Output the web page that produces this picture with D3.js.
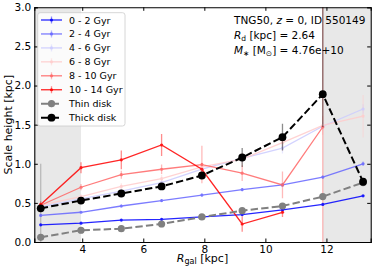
<!DOCTYPE html>
<meta charset="utf-8">
<style>
  body { margin: 0; background: #fff; }
  svg { display: block; font-family: 'DejaVu Sans', sans-serif; }
  .axis path { stroke: #000; stroke-width: 1.1px; }
  .axis line { stroke: #000; stroke-width: 1px; }
  .axis text { font-size: 10.5px; fill: #000; font-family: 'DejaVu Sans', sans-serif; }
</style>
<script src="https://d3js.org/d3.v7.min.js"></script>
<body>
<svg width="374" height="270"></svg>
<script>
  // radii sampled at 1.0 .. 5.0 R_d in half steps, R_d = 2.64 kpc
  var rd = 2.64;
  var radii = [2.64, 3.96, 5.28, 6.60, 7.92, 9.24, 10.56, 11.88, 13.20];

  var ageLabels = ["0 - 2 Gyr", "2 - 4 Gyr", "4 - 6 Gyr", "6 - 8 Gyr", "8 - 10 Gyr", "10 - 14 Gyr"];
  var ageColors = ["#0000ff", "#6666ff", "#ccccff", "#ffcccc", "#ff6666", "#ff0000"];

  var h0_2   = [0.22, 0.24, 0.28, 0.29, 0.32, 0.35, 0.41, 0.48, 0.59];
  var h2_4   = [0.34, 0.38, 0.46, 0.53, 0.60, 0.67, 0.73, 0.83, 1.00];
  var h4_6   = [0.45, 0.55, 0.65, 0.76, 0.93, 1.07, 1.20, 1.48, 1.70];
  var h6_8   = [0.47, 0.58, 0.71, 0.81, 0.96, 1.06, 1.27, 1.49, 1.61];
  var h8_10  = [0.47, 0.70, 0.86, 0.93, 0.99, 0.88, 0.73, 1.47, null];
  var h10_14 = [0.48, 0.95, 1.05, 1.24, 0.93, 0.23, 0.38, null, null];

  var e0_2   = [0.01, 0.01, 0.01, 0.01, 0.01, 0.01, 0.01, 0.01, 0.01];
  var e2_4   = [0.01, 0.01, 0.02, 0.02, 0.02, 0.02, 0.02, 0.02, 0.03];
  var e4_6   = [0.02, 0.02, 0.03, 0.03, 0.04, 0.05, 0.07, 0.05, 0.06];
  var e6_8   = [0.02, 0.03, 0.04, 0.05, 0.06, 0.08, 0.10, 0.12, 0.27];
  var e8_10  = [0.03, 0.04, 0.05, 0.06, 0.24, 0.10, 0.17, 1.60, null];
  var e10_14 = [0.04, 0.07, 0.12, 0.14, 0.08, 0.10, 0.06, null, null];

  var thin  = [0.06, 0.15, 0.17, 0.23, 0.32, 0.40, 0.46, 0.58, 0.76];
  var thick = [0.43, 0.53, 0.62, 0.71, 0.85, 1.08, 1.34, 1.89, 0.77];
  var eThin  = [0.94, 0.04, 0.04, 0.04, 0.03, 0.03, 0.03, 0.03, 0.03];
  var eThickLo = [0.02, 0.02, 0.03, 0.03, 0.04, 0.12, 0.17, 0.42, 0.04];
  var eThickHi = [0.02, 0.02, 0.03, 0.03, 0.04, 0.12, 0.17, 1.25, 0.04];

  var xTicks = [4, 6, 8, 10, 12];
  var yTicks = [0, 0.5, 1.0, 1.5, 2.0, 2.5, 3.0];

  var ageH = [h0_2, h2_4, h4_6, h6_8, h8_10, h10_14];
  var ageE = [e0_2, e2_4, e4_6, e6_8, e8_10, e10_14];

  var svg = d3.select("svg");
  var L = 34.3, R = 370.7, T = 7.3, B = 242;

  var x = d3.scaleLinear().domain([2.43, 13.45]).range([L, R]);
  var y = d3.scaleLinear().domain([0, 3]).range([B, T]);

  svg.append("clipPath").attr("id", "clip")
    .append("rect").attr("x", L).attr("y", T).attr("width", R - L).attr("height", B - T);

  var plot = svg.append("g").attr("clip-path", "url(#clip)");

  // shaded regions: inside 1.5 R_d and beyond 4.5 R_d
  plot.append("rect")
    .attr("x", L).attr("y", T)
    .attr("width", x(1.5 * rd) - L).attr("height", B - T)
    .attr("fill", "#e8e8e8");
  plot.append("rect")
    .attr("x", x(4.5 * rd)).attr("y", T)
    .attr("width", R - x(4.5 * rd)).attr("height", B - T)
    .attr("fill", "#e8e8e8");

  function pts(vals) {
    return radii.map(function(r, i) { return {r: r, v: vals[i], i: i}; })
      .filter(function(d) { return d.v != null; });
  }

  var line = d3.line().x(function(d) { return x(d.r); }).y(function(d) { return y(d.v); });

  // error bars first
  function errBars(vals, lo, hi, color, op, w) {
    plot.append("g").selectAll("line")
      .data(pts(vals))
      .join("line")
      .attr("x1", function(d) { return x(d.r); })
      .attr("x2", function(d) { return x(d.r); })
      .attr("y1", function(d) { return y(d.v - lo[d.i]); })
      .attr("y2", function(d) { return y(d.v + hi[d.i]); })
      .attr("stroke", color).attr("stroke-opacity", op).attr("stroke-width", w);
  }

  ageH.forEach(function(h, k) {
    errBars(h, ageE[k], ageE[k], ageColors[k], 0.45, 1.3);
  });
  errBars(thin, eThin, eThin, "#808080", 0.45, 1.3);

  ageH.forEach(function(h, k) {
    var g = plot.append("g").attr("opacity", 0.85);
    g.append("path").datum(pts(h))
      .attr("d", line).attr("fill", "none")
      .attr("stroke", ageColors[k]).attr("stroke-width", 1.3);
    g.selectAll("circle").data(pts(h)).join("circle")
      .attr("cx", function(d) { return x(d.r); })
      .attr("cy", function(d) { return y(d.v); })
      .attr("r", 1.6).attr("fill", ageColors[k]);
  });

  errBars(thick, eThickLo, eThickHi, "#000", 0.45, 1.3);

  function diskLine(vals, color, rad) {
    plot.append("path").datum(pts(vals))
      .attr("d", line).attr("fill", "none")
      .attr("stroke", color).attr("stroke-width", 2)
      .attr("stroke-dasharray", "7.4,3.2");
    plot.append("g").selectAll("circle").data(pts(vals)).join("circle")
      .attr("cx", function(d) { return x(d.r); })
      .attr("cy", function(d) { return y(d.v); })
      .attr("r", rad).attr("fill", color);
  }
  diskLine(thin, "#808080", 3.6);
  diskLine(thick, "#000000", 3.9);

  // axes, ticks pointing in on all four sides
  svg.append("g").attr("class", "axis")
    .attr("transform", "translate(0," + B + ")")
    .call(d3.axisBottom(x).tickValues(xTicks).tickSize(-3.5).tickPadding(3.5).tickFormat(d3.format("d")));
  svg.append("g").attr("class", "axis")
    .attr("transform", "translate(0," + T + ")")
    .call(d3.axisTop(x).tickValues(xTicks).tickSize(-3.5).tickFormat(""));
  svg.append("g").attr("class", "axis")
    .attr("transform", "translate(" + L + ",0)")
    .call(d3.axisLeft(y).tickValues(yTicks).tickSize(-3.5).tickPadding(3).tickFormat(d3.format(".1f")));
  svg.append("g").attr("class", "axis")
    .attr("transform", "translate(" + R + ",0)")
    .call(d3.axisRight(y).tickValues(yTicks).tickSize(-3.5).tickFormat(""));
  svg.selectAll(".axis .domain").attr("stroke-width", 1.1);

  // axis labels
  svg.append("text")
    .attr("transform", "translate(12," + ((T + B) / 2) + ") rotate(-90)")
    .attr("text-anchor", "middle").attr("font-size", 11)
    .text("Scale height [kpc]");

  var xl = svg.append("text")
    .attr("x", (L + R) / 2).attr("y", 262)
    .attr("text-anchor", "middle").attr("font-size", 11);
  xl.append("tspan").attr("font-style", "italic").text("R");
  xl.append("tspan").attr("font-size", 8).attr("dy", 2).text("gal");
  xl.append("tspan").attr("dy", -2).text(" [kpc]");

  // annotation
  var ann = svg.append("g").attr("font-size", 10.5);
  var t1 = ann.append("text").attr("x", 234).attr("y", 23.5);
  t1.append("tspan").text("TNG50, ");
  t1.append("tspan").attr("font-style", "italic").text("z");
  t1.append("tspan").text(" = 0, ID 550149");
  var t2 = ann.append("text").attr("x", 234).attr("y", 38.5);
  t2.append("tspan").attr("font-style", "italic").text("R");
  t2.append("tspan").attr("font-size", 7.5).attr("dy", 2).text("d");
  t2.append("tspan").attr("dy", -2).text(" [kpc] = 2.64");
  var t3 = ann.append("text").attr("x", 234).attr("y", 53.5);
  t3.append("tspan").attr("font-style", "italic").text("M");
  t3.append("tspan").attr("font-size", 7.5).attr("dy", 2).text("\u2217");
  t3.append("tspan").attr("dy", -2).text(" [M");
  t3.append("tspan").attr("font-size", 7.5).attr("dy", 2).text("\u2299");
  t3.append("tspan").attr("dy", -2).text("] = 4.76e+10");

  // legend
  var leg = svg.append("g");
  leg.append("rect")
    .attr("x", 37.7).attr("y", 12.7).attr("width", 87.3).attr("height", 113.3)
    .attr("rx", 2.5).attr("fill", "#fff").attr("fill-opacity", 0.8)
    .attr("stroke", "#cccccc").attr("stroke-width", 0.8);

  var legItems = ageLabels.map(function(l, k) {
    return {label: l, color: ageColors[k], dash: null, r: 1.6, w: 1.3, op: 0.85};
  }).concat([
    {label: "Thin disk", color: "#808080", dash: "7.4,3.2", r: 3.6, w: 2, op: 1},
    {label: "Thick disk", color: "#000000", dash: "7.4,3.2", r: 3.9, w: 2, op: 1}
  ]);

  var row = leg.selectAll("g.row").data(legItems).join("g")
    .attr("transform", function(d, i) { return "translate(0," + (20 + i * 13.95) + ")"; });
  row.append("line")
    .attr("x1", 51.5).attr("x2", 51.5).attr("y1", -3.5).attr("y2", 3.5)
    .attr("stroke", function(d) { return d.color; }).attr("stroke-opacity", 0.45).attr("stroke-width", 1.3);
  row.append("line")
    .attr("x1", 41).attr("x2", 62).attr("y1", 0).attr("y2", 0)
    .attr("stroke", function(d) { return d.color; })
    .attr("stroke-width", function(d) { return d.w; })
    .attr("stroke-dasharray", function(d) { return d.dash; })
    .attr("opacity", function(d) { return d.op; });
  row.append("circle")
    .attr("cx", 51.5).attr("cy", 0)
    .attr("r", function(d) { return d.r; })
    .attr("fill", function(d) { return d.color; })
    .attr("opacity", function(d) { return d.op; });
  row.append("text")
    .attr("x", 69).attr("y", 3.5).attr("font-size", 9.5)
    .text(function(d) { return d.label; });
</script>
</body>
